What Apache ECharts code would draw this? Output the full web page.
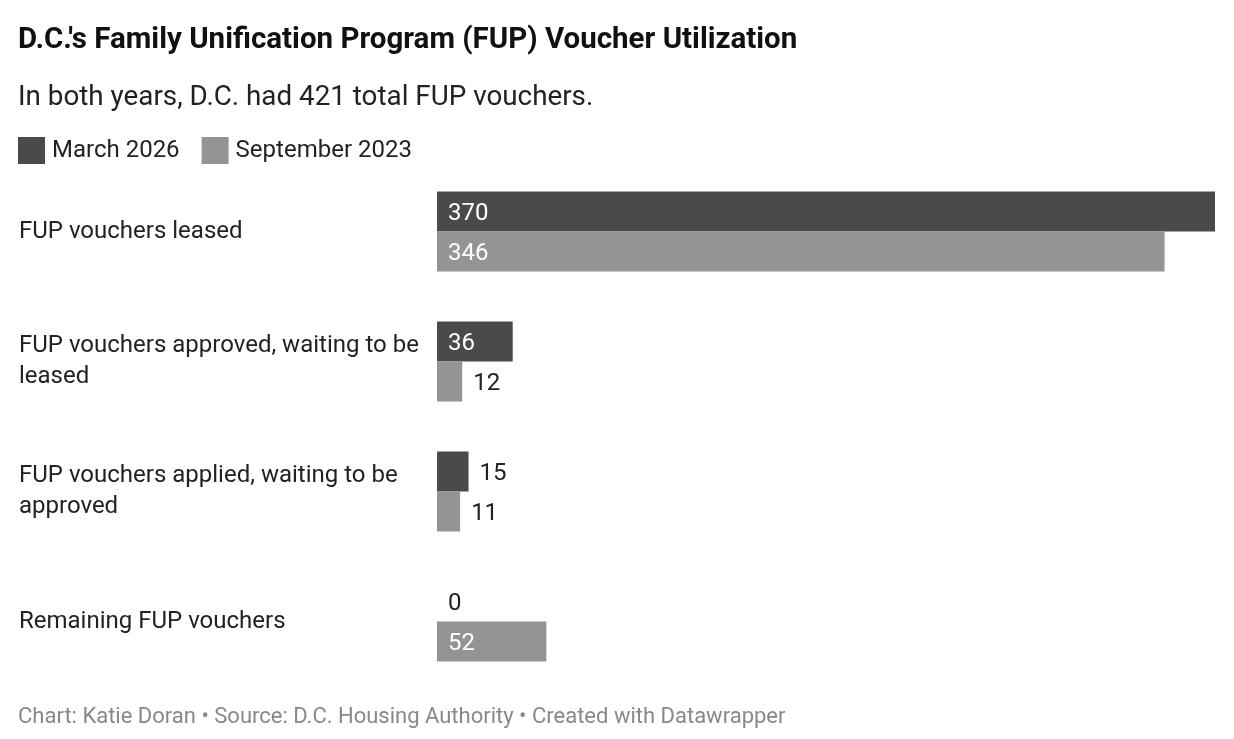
<!DOCTYPE html>
<html>
<head>
<meta charset="utf-8">
<script src="https://cdn.jsdelivr.net/npm/echarts@6/dist/echarts.min.js"></script>
<style>html,body{margin:0;padding:0;background:#fff;}#c{width:1234px;height:739px;}</style>
</head>
<body>
<div id="c"></div>
<script>
var categories = ["FUP vouchers leased", "FUP vouchers approved, waiting to be leased", "FUP vouchers applied, waiting to be approved", "Remaining FUP vouchers"];
var seriesNames = ["March 2026", "September 2023"];
var march2026 = [370, 36, 15, 0];
var september2023 = [346, 12, 11, 52];
var colors = ["#4a4a4a", "#949494"];

var FONT = "Roboto";
function makeData(vals) {
  return vals.map(function (v) {
    var inside = v >= 30;
    return {
      value: v,
      label: inside
        ? { position: "insideLeft", distance: 11, color: "#ffffff" }
        : { position: "right", distance: 11, color: "#222222" }
    };
  });
}

var chart = echarts.init(document.getElementById("c"), null, { renderer: "canvas" });
chart.setOption({
  animation: false,
  backgroundColor: "#ffffff",
  textStyle: { fontFamily: FONT },
  title: [
    { text: "D.C.'s Family Unification Program (FUP) Voucher Utilization", left: 13, top: 21,
      textStyle: { fontFamily: FONT, fontSize: 29.5, fontWeight: "bold", color: "#111" } },
    { text: "In both years, D.C. had 421 total FUP vouchers.", left: 13, top: 79,
      textStyle: { fontFamily: FONT, fontSize: 27.8, fontWeight: "normal", color: "#222" } },
    { text: "Chart: Katie Doran \u2022 Source: D.C. Housing Authority \u2022 Created with Datawrapper", left: 13, top: 701,
      textStyle: { fontFamily: FONT, fontSize: 22, fontWeight: "normal", color: "#888" } }
  ],
  legend: {
    left: 13, top: 132, itemWidth: 27, itemHeight: 27, itemGap: 22,
    icon: "rect",
    textStyle: { fontFamily: FONT, fontSize: 24, color: "#222", padding: [3, 0, 0, 2] },
    data: seriesNames
  },
  grid: { left: 437, right: 19, top: 166.5, bottom: 52.5, containLabel: false },
  xAxis: {
    type: "value", min: 0, max: 370, show: false
  },
  yAxis: {
    type: "category", data: categories, inverse: true,
    axisLine: { show: false }, axisTick: { show: false },
    axisLabel: {
      align: "left", margin: 418, width: 412, overflow: "break",
      fontFamily: FONT, fontSize: 24, lineHeight: 31, color: "#222",
      padding: [3, 0, 0, 0]
    }
  },
  series: [
    { name: seriesNames[0], type: "bar", data: makeData(march2026), barWidth: 40, barGap: "0%",
      itemStyle: { color: colors[0] },
      label: { show: true, fontFamily: FONT, fontSize: 24, offset: [0, 2] } },
    { name: seriesNames[1], type: "bar", data: makeData(september2023), barWidth: 40, barGap: "0%",
      itemStyle: { color: colors[1] },
      label: { show: true, fontFamily: FONT, fontSize: 24, offset: [0, 2] } }
  ]
});
</script>
</body>
</html>
